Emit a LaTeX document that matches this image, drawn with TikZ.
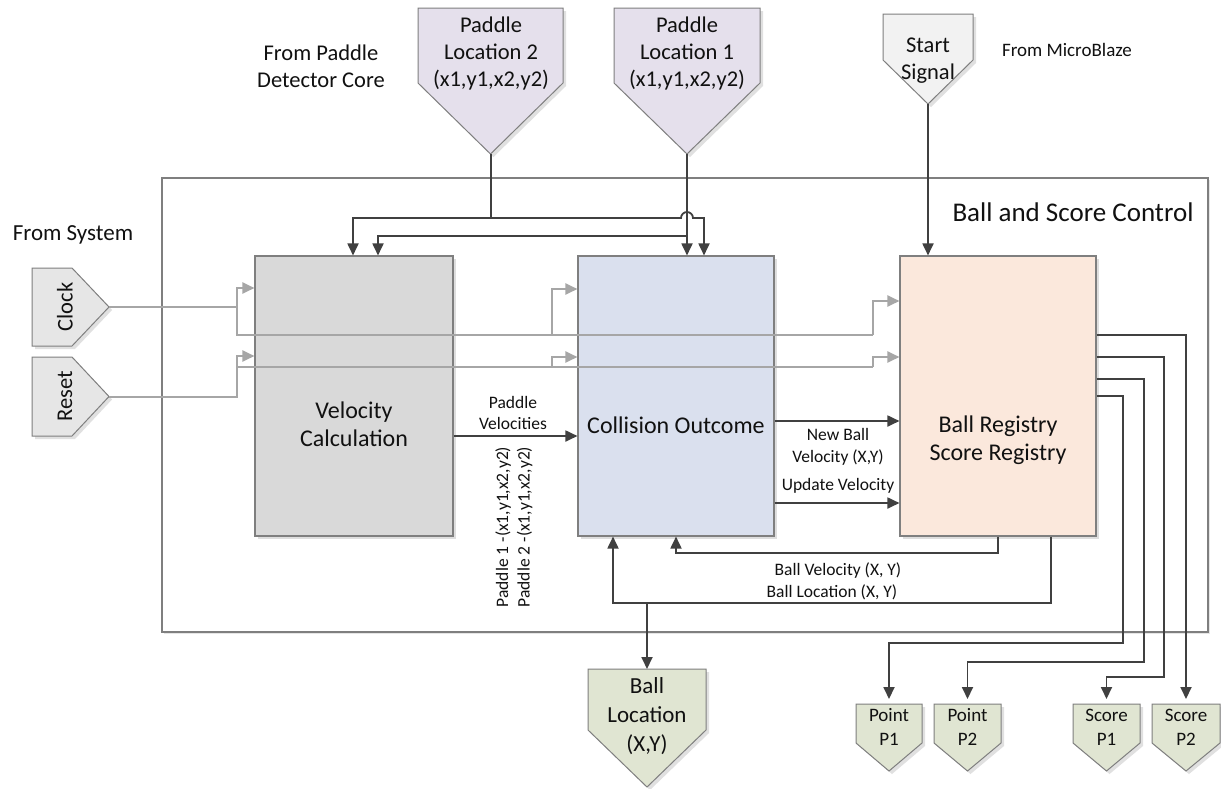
\documentclass[tikz,border=0pt]{standalone}
\usepackage{fontspec}
\setmainfont{Carlito}
\usetikzlibrary{arrows.meta,shadows}

\definecolor{wirec}{HTML}{404040}
\definecolor{grayw}{HTML}{A6A6A6}
\definecolor{edgec}{HTML}{7F7F7F}
\definecolor{velfill}{HTML}{D9D9D9}
\definecolor{colfill}{HTML}{DAE0EE}
\definecolor{regfill}{HTML}{FBE8DC}
\definecolor{padfill}{HTML}{E5E0EC}
\definecolor{startfill}{HTML}{F2F2F2}
\definecolor{sysfill}{HTML}{E6E6E6}
\definecolor{outfill}{HTML}{E0E5D2}
\definecolor{txtc}{HTML}{111111}

% port shape pointing down: left x, right x, top y, shoulder y, tip y, fill
\newcommand\pentdown[6]{%
  \fill[black!12,shift={(3,3)}] (#1,#3) -- (#2,#3) -- (#2,#4) -- ({(#1+#2)/2},#5) -- (#1,#4) -- cycle;
  \draw[pentedge,fill=#6] (#1,#3) -- (#2,#3) -- (#2,#4) -- ({(#1+#2)/2},#5) -- (#1,#4) -- cycle;
}
% port shape pointing right: left x, top y, bottom y, shoulder x, tip x, fill
\newcommand\pentright[6]{%
  \fill[black!12,shift={(3,3)}] (#1,#2) -- (#4,#2) -- (#5,{(#2+#3)/2}) -- (#4,#3) -- (#1,#3) -- cycle;
  \draw[pentedge,fill=#6] (#1,#2) -- (#4,#2) -- (#5,{(#2+#3)/2}) -- (#4,#3) -- (#1,#3) -- cycle;
}

\begin{document}
\begin{tikzpicture}[x=1pt,y=-1pt,
  pentedge/.style={draw=edgec,line width=1pt},
  blockbox/.style={draw=edgec,line width=1.1pt,rectangle,inner sep=0pt,
    drop shadow={shadow xshift=3pt,shadow yshift=-3pt,fill=black!13,opacity=1}},
  wire/.style={draw=wirec,line width=1.8pt},
  gwire/.style={draw=grayw,line width=2pt},
  tip/.style={-{Triangle[length=12pt,width=11pt]}},
  txt/.style={text=txtc,inner sep=0pt,align=center},
  fbig/.style={txt,font=\fontsize{27}{32}\selectfont},
  fblk/.style={txt,font=\fontsize{24}{27.5}\selectfont},
  fport/.style={txt,font=\fontsize{22.5}{27}\selectfont},
  fout/.style={txt,font=\fontsize{19}{24}\selectfont},
  fsig/.style={txt,font=\fontsize{17.5}{21.5}\selectfont},
]
\useasboundingbox[fill=white] (0,0) rectangle (1221,788);

% enclosing control block
\node[draw=edgec,line width=1.2pt,fill=white,minimum width=1046pt,minimum height=454pt,inner sep=0pt,
  drop shadow={shadow xshift=2pt,shadow yshift=-2pt,fill=black!10,opacity=1}] (ctl) at (685,405) {};
\node[fbig] (ctltitle) at (1073,212) {Ball and Score Control};

% functional blocks
\node[blockbox,fill=velfill,minimum width=198pt,minimum height=280pt] (vel) at (354,396) {};
\node[blockbox,fill=colfill,minimum width=196pt,minimum height=280pt] (col) at (676,396) {};
\node[blockbox,fill=regfill,minimum width=196pt,minimum height=280pt] (reg) at (998,396) {};
\node[fblk] (veltxt) at (354,424) {Velocity\\Calculation};
\node[fblk] (coltxt) at (676,425) {Collision Outcome};
\node[fblk] (regtxt) at (998,440) {Ball Registry\\Score Registry};

% input ports
\pentdown{418}{563}{8}{83}{154}{padfill}
\pentdown{614}{760}{8}{83}{154}{padfill}
\pentdown{883}{973}{14}{60}{104}{startfill}
\coordinate (p2tip) at (491,154);
\coordinate (p1tip) at (687,154);
\coordinate (sstip) at (928,104);
\node[fport] (pl2) at (491,53) {Paddle\\Location 2\\(x1,y1,x2,y2)};
\node[fport] (pl1) at (687,53) {Paddle\\Location 1\\(x1,y1,x2,y2)};
\node[fport] (ss) at (928,61) {Start\\Signal};
\node[fport] (frompd) at (321,66) {From Paddle\\Detector Core};
\node[txt,font=\fontsize{19}{23}\selectfont] (frommb) at (1067,50) {From MicroBlaze};
\node[txt,font=\fontsize{23}{27}\selectfont] (fromsys) at (73,235) {From System};

\pentright{32}{268}{346}{72}{109}{sysfill}
\pentright{32}{357}{436}{72}{109}{sysfill}
\coordinate (cktip) at (109,307);
\coordinate (rstip) at (109,396.5);
\node[fport,rotate=90] (ck) at (65,307) {Clock};
\node[fport,rotate=90] (rs) at (65,396) {Reset};

% output ports
\pentdown{588}{706}{669}{730}{787}{outfill}
\pentdown{856}{922}{704}{743}{771}{outfill}
\pentdown{934}{1001}{704}{743}{771}{outfill}
\pentdown{1073}{1140}{704}{743}{771}{outfill}
\pentdown{1152}{1220}{704}{743}{771}{outfill}
\coordinate (bltop) at (647,669);
\coordinate (pp1top) at (889,699);
\coordinate (pp2top) at (967.5,699);
\coordinate (sp1top) at (1106.5,699);
\coordinate (sp2top) at (1186,699);
\node[txt,font=\fontsize{23}{29}\selectfont] (bl) at (647,716) {Ball\\Location\\(X,Y)};
\node[fout] (pp1) at (889,727) {Point\\P1};
\node[fout] (pp2) at (967.5,727) {Point\\P2};
\node[fout] (sp1) at (1106.5,727) {Score\\P1};
\node[fout] (sp2) at (1186,727) {Score\\P2};

% clock and reset distribution
\draw[gwire,tip] (cktip) -| (237,288) -- (vel.west |- 0,288);
\draw[gwire] (237,307) -- (237,335) -- (873,335);
\draw[gwire,tip] (873,335) -- (873,301) -- (reg.west |- 0,301);
\draw[gwire,tip] (552,335) -- (552,289) -- (col.west |- 0,289);
\draw[gwire,tip] (rstip) -| (237,356) -- (vel.west |- 0,356);
\draw[gwire] (237,367) -- (873,367);
\draw[gwire,tip] (873,367) -- (873,357) -- (reg.west |- 0,357);
\draw[gwire,tip] (552,367) -- (552,357) -- (col.west |- 0,357);

% paddle locations into the velocity and collision blocks
\draw[wire,tip] (p1tip) -- (p1tip |- col.north);
\draw[wire,tip] (p2tip) |- (353,218) -- (353,0 |- vel.north);
\draw[wire,tip] (491,218) -- (681,218) arc[start angle=180,end angle=360,radius=6] -- (704,218) -- (704,0 |- col.north);
\draw[wire,tip] (687,236) -- (378,236) -- (378,0 |- vel.north);
\draw[wire,tip] (sstip) -- (sstip |- reg.north);

% data paths between blocks
\draw[wire,tip] (vel.east |- 0,436) -- (col.west |- 0,436);
\draw[wire,tip] (col.east |- 0,421) -- (reg.west |- 0,421);
\draw[wire,tip] (col.east |- 0,503) -- (reg.west |- 0,503);
\draw[wire,tip] (998,0 |- reg.south) -- (998,553) -| (676,0 |- col.south);
\draw[wire,tip] (1051,0 |- reg.south) -- (1051,603) -| (613,0 |- col.south);
\draw[wire,tip] (647,603) -- (bltop);

% score and point outputs
\draw[wire,tip] (reg.east |- 0,335) -| (sp2top);
\draw[wire,tip] (reg.east |- 0,357) -- (1164,357) -- (1164,677) -| (sp1top);
\draw[wire,tip] (reg.east |- 0,379) -- (1144,379) -- (1144,662) -| (pp2top);
\draw[wire,tip] (reg.east |- 0,396) -- (1123,396) -- (1123,643) -| (pp1top);

% signal labels
\node[fsig] (pvlab) at (513,413) {Paddle\\Velocities};
\node[fsig,rotate=90] (pclab) at (514,527) {Paddle 1 -(x1,y1,x2,y2)\\Paddle 2 -(x1,y1,x2,y2)};
\node[fsig] (nblab) at (838,447) {New Ball\\Velocity (X,Y)};
\node[fsig] (uvlab) at (838,486) {Update Velocity};
\node[fsig] (bvlab) at (838,570) {Ball Velocity (X, Y)};
\node[fsig] (bllab) at (832,592) {Ball Location (X, Y)};
\end{tikzpicture}
\end{document}
